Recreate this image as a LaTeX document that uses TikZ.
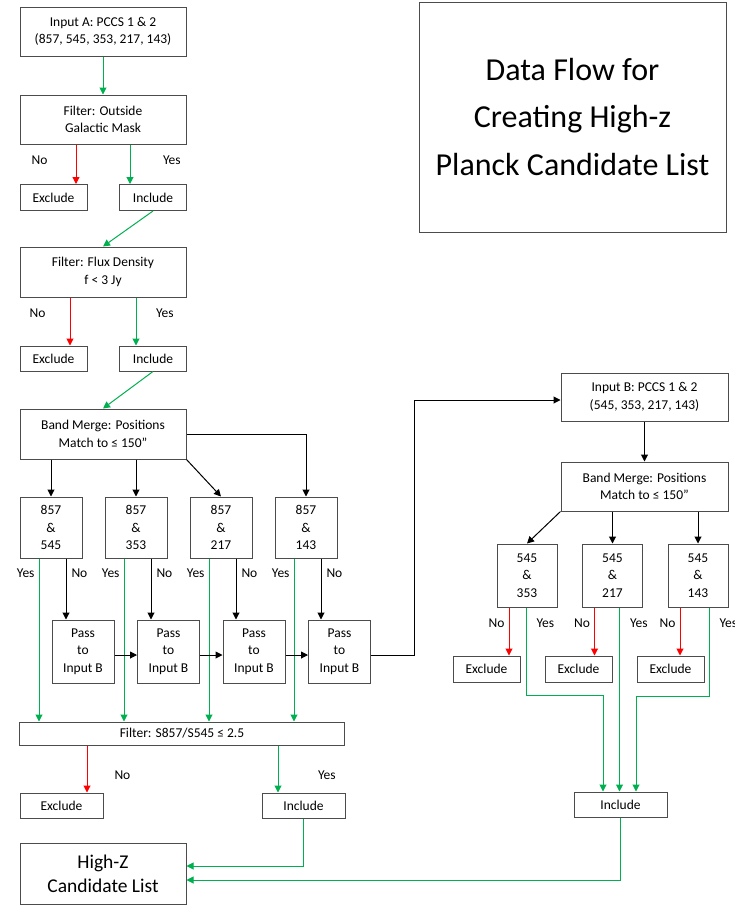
\documentclass[tikz,border=0pt]{standalone}
\usepackage{fontspec}
\setmainfont{Carlito}[Ligatures=ResetAll]
\usetikzlibrary{arrows.meta}
\definecolor{yesgreen}{RGB}{0,176,80}
\definecolor{nored}{RGB}{255,0,0}

\begin{document}
\begin{tikzpicture}[x=1pt,y=-1pt,>={Triangle[length=7pt,width=7pt]},node distance=85pt,
  box/.style={draw=black!70,line width=1pt,align=center,inner sep=0pt,
    font=\fontsize{13.5}{17.5}\selectfont},
  wide/.style={box,minimum width=166pt,minimum height=49pt},
  small/.style={box,minimum width=67pt,minimum height=26pt},
  pair/.style={box,minimum width=62pt,minimum height=61pt},
  yes/.style={->,yesgreen,line width=1pt},
  no/.style={->,nored,line width=1pt},
  go/.style={->,black,line width=1pt},
  lbl/.style={black,font=\fontsize{13.5}{16}\selectfont,inner sep=0pt}]

\useasboundingbox (0,0) rectangle (734,905);

\node[wide]   (inA)  at (103,31.5)                 {Input A: PCCS 1 \& 2\\(857, 545, 353, 217, 143)};
\node[wide]   (fGal) [below of=inA,node distance=88pt] {Filter: Outside\\Galactic Mask};
\node[small]  (exc1) at (53.5,197.5)               {Exclude};
\node[small]  (inc1) [right of=exc1,node distance=99.5pt] {Include};

\node[wide,minimum height=50pt] (fFlux) at (103,272) {Filter: Flux Density\\f < 3 Jy};
\node[small,minimum height=25pt] (exc2) at (53.5,358.5) {Exclude};
\node[small,minimum height=25pt] (inc2) [right of=exc2,node distance=99.5pt] {Include};

\node[wide,minimum height=50pt] (bmA) at (103,434) {Band Merge: Positions\\Match to ≤ 150"};

\node[pair] (p1) at (51,527.5)  {857\\\&\\545};
\node[pair] (p2) [right of=p1]  {857\\\&\\353};
\node[pair] (p3) [right of=p2]  {857\\\&\\217};
\node[pair] (p4) [right of=p3]  {857\\\&\\143};

\node[pair,minimum height=63pt] (pass1) at (83,651.5) {Pass\\to\\Input B};
\node[pair,minimum height=63pt] (pass2) [right of=pass1,node distance=85.5pt] {Pass\\to\\Input B};
\node[pair,minimum height=63pt] (pass3) [right of=pass2,node distance=85.5pt] {Pass\\to\\Input B};
\node[pair,minimum height=63pt] (pass4) [right of=pass3,node distance=85.5pt] {Pass\\to\\Input B};

\node[box,minimum width=325pt,minimum height=23pt] (fRatio) at (182,733.5) {Filter: S857/S545 ≤ 2.5};
\node[box,minimum width=83pt,minimum height=25pt] (exc3) at (61.5,805.5) {Exclude};
\node[box,minimum width=83pt,minimum height=25pt] (inc3) [right of=exc3,node distance=242pt] {Include};

\node[box,minimum width=166pt,minimum height=61pt,font=\fontsize{19.5}{24}\selectfont] (hiZ) at (103,873.5) {High-Z\\Candidate List};

\node[box,minimum width=167pt,minimum height=48pt] (inB) at (644.5,397) {Input B: PCCS 1 \& 2\\(545, 353, 217, 143)};
\node[box,minimum width=167pt,minimum height=49pt] (bmB) [below of=inB,node distance=89.5pt] {Band Merge: Positions\\Match to ≤ 150"};

\node[pair,minimum width=60pt,minimum height=63pt] (q1) at (527,575.5) {545\\\&\\353};
\node[pair,minimum width=60pt,minimum height=63pt] (q2) [right of=q1,node distance=85.5pt] {545\\\&\\217};
\node[pair,minimum width=60pt,minimum height=63pt] (q3) [right of=q2,node distance=85.5pt] {545\\\&\\143};

\node[small] (ex4) at (486.5,669) {Exclude};
\node[small] (ex5) [right of=ex4,node distance=92pt] {Exclude};
\node[small] (ex6) [right of=ex5,node distance=92pt] {Exclude};

\node[box,minimum width=93pt,minimum height=25pt] (inc4) at (620.5,804.5) {Include};

\node[box,minimum width=307pt,minimum height=230pt,font=\fontsize{32}{47.5}\selectfont] (title) at (572.5,117) {Data Flow for\\Creating High-z\\Planck Candidate List};

\path[yes] (inA) edge (fGal);
\draw[no]  ([xshift=-27pt]fGal.south) -- node[lbl,pos=0.4,left=28pt]{No} ([xshift=-27pt]fGal.south |- exc1.north);
\draw[yes] ([xshift=27pt]fGal.south) -- node[lbl,pos=0.4,right=32.5pt]{Yes} ([xshift=27pt]fGal.south |- inc1.north);
\path[yes] (inc1.south) edge (fFlux.north);

\draw[no]  ([xshift=-33pt]fFlux.south) -- node[lbl,pos=0.33,left=24pt]{No} ([xshift=-33pt]fFlux.south |- exc2.north);
\draw[yes] ([xshift=33pt]fFlux.south) -- node[lbl,pos=0.33,right=19.5pt]{Yes} ([xshift=33pt]fFlux.south |- inc2.north);
\path[yes] (inc2.south) edge (bmA.north);

\path[go] (bmA.south -| p1.north) edge (p1.north)
          (bmA.south -| p2.north) edge (p2.north)
          (bmA.south east) edge (p3.north);
\draw[go] (bmA.east) -| (p4.north);

\draw[yes] ([xshift=-12pt]p1.south) -- node[lbl,pos=0.09,left=4pt]{Yes} ([xshift=-12pt]p1.south |- fRatio.north);
\draw[yes] ([xshift=-12pt]p2.south) -- node[lbl,pos=0.09,left=4pt]{Yes} ([xshift=-12pt]p2.south |- fRatio.north);
\draw[yes] ([xshift=-12pt]p3.south) -- node[lbl,pos=0.09,left=4pt]{Yes} ([xshift=-12pt]p3.south |- fRatio.north);
\draw[yes] ([xshift=-12pt]p4.south) -- node[lbl,pos=0.09,left=4pt]{Yes} ([xshift=-12pt]p4.south |- fRatio.north);

\draw[go] ([xshift=15pt]p1.south) -- node[lbl,pos=0.24,right=5pt]{No} ([xshift=15pt]p1.south |- pass1.north);
\draw[go] ([xshift=15pt]p2.south) -- node[lbl,pos=0.24,right=5pt]{No} ([xshift=15pt]p2.south |- pass2.north);
\draw[go] ([xshift=15pt]p3.south) -- node[lbl,pos=0.24,right=5pt]{No} ([xshift=15pt]p3.south |- pass3.north);
\draw[go] ([xshift=15pt]p4.south) -- node[lbl,pos=0.24,right=5pt]{No} ([xshift=15pt]p4.south |- pass4.north);

\path[go] ([yshift=-3.5pt]pass1.east) edge ([yshift=-3.5pt]pass2.west)
          ([yshift=-3.5pt]pass2.east) edge ([yshift=-3.5pt]pass3.west)
          ([yshift=-3.5pt]pass3.east) edge ([yshift=-3.5pt]pass4.west);
\draw[go] ([yshift=-3.5pt]pass4.east) -- ++(43,0) |- ([yshift=-3pt]inB.west);

\path[go] (inB) edge (bmB);
\draw[go] (bmB.south west) -- (q1.north);
\draw[go] (bmB.south -| q2.north) -- (q2.north);
\draw[go] (bmB.south -| q3.north) -- (q3.north);

\draw[no] ([xshift=-18pt]q1.south) -- node[lbl,pos=0.33,left=4pt]{No} ([xshift=-18pt]q1.south |- ex4.north);
\draw[no] ([xshift=-18pt]q2.south) -- node[lbl,pos=0.33,left=4pt]{No} ([xshift=-18pt]q2.south |- ex5.north);
\draw[no] ([xshift=-18pt]q3.south) -- node[lbl,pos=0.33,left=4pt]{No} ([xshift=-18pt]q3.south |- ex6.north);

\draw[yes] ([xshift=-1pt]q1.south) -- node[lbl,pos=0.18,right=10pt]{Yes} ++(0,88) -| ([xshift=-17.5pt]inc4.north);
\draw[yes] ([xshift=7pt]q2.south) -- node[lbl,pos=0.086,right=10pt]{Yes} ([xshift=7pt]q2.south |- inc4.north);
\draw[yes] ([xshift=11pt]q3.south) -- node[lbl,pos=0.18,right=10pt]{Yes} ++(0,89) -| ([xshift=15.5pt]inc4.north);

\draw[no]  ([xshift=-95pt]fRatio.south) -- node[lbl,pos=0.625,right=27pt]{No} ([xshift=-95pt]fRatio.south |- exc3.north);
\draw[yes] ([xshift=96pt]fRatio.south) -- node[lbl,pos=0.625,right=39.5pt]{Yes} ([xshift=96pt]fRatio.south |- inc3.north);

\draw[yes] (inc3.south) |- ([yshift=7.5pt]hiZ.east);
\draw[yes] (inc4.south) |- ([yshift=-6.5pt]hiZ.east);

\end{tikzpicture}
\end{document}
